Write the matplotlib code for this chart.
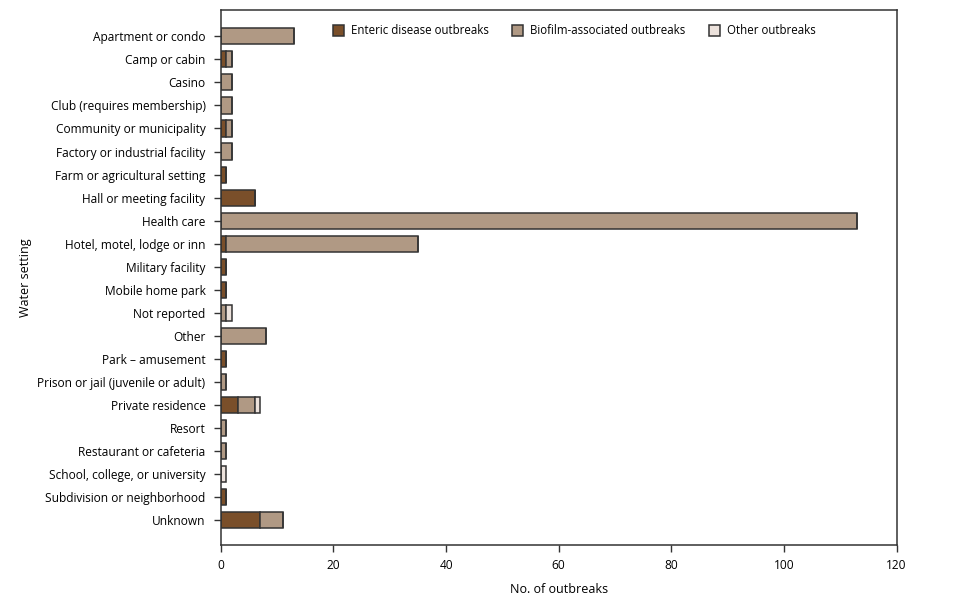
import matplotlib.pyplot as plt
import numpy as np
from matplotlib.patches import Patch

plt.rcParams["font.family"] = ["Open Sans", "DejaVu Sans"]

settings = [
    "Apartment or condo", "Camp or cabin", "Casino", "Club (requires membership)",
    "Community or municipality", "Factory or industrial facility", "Farm or agricultural setting",
    "Hall or meeting facility", "Health care", "Hotel, motel, lodge or inn", "Military facility",
    "Mobile home park", "Not reported", "Other", "Park \u2013 amusement",
    "Prison or jail (juvenile or adult)", "Private residence", "Resort",
    "Restaurant or cafeteria", "School, college, or university",
    "Subdivision or neighborhood", "Unknown",
]
enteric = [0, 1, 0, 0, 1, 0, 1, 6, 0, 1, 1, 1, 0, 0, 1, 0, 3, 0, 0, 0, 1, 7]
biofilm = [13, 1, 2, 2, 1, 2, 0, 0, 113, 34, 0, 0, 1, 8, 0, 1, 3, 1, 1, 0, 0, 4]
other = [0, 0, 0, 0, 0, 0, 0, 0, 0, 0, 0, 0, 1, 0, 0, 0, 1, 0, 0, 1, 0, 0]

C_ENT = "#7a4f2a"
C_BIO = "#b09984"
C_OTH = "#ece2dc"
EDGE = "#333333"

fig = plt.figure(figsize=(9.6, 6.05), dpi=100)
ax = fig.add_axes([0.230, 0.099, 0.704, 0.884])

y = np.arange(len(settings))
ent = np.array(enteric)
bio = np.array(biofilm)
oth = np.array(other)
kw = dict(height=0.7, edgecolor=EDGE, linewidth=1.1)
ax.barh(y, ent, color=C_ENT, **kw)
ax.barh(y, bio, left=ent, color=C_BIO, **kw)
ax.barh(y, oth, left=ent + bio, color=C_OTH, **kw)

ax.set_yticks(y)
ax.set_yticklabels(settings, fontsize=8.6)
ax.set_ylim(len(settings) - 1 + 1.08, -1.13)
ax.set_xlim(0, 120)
ax.set_xticks(range(0, 121, 20))
ax.tick_params(axis="x", labelsize=8.6, length=5, width=1, color="#333", pad=5)
ax.tick_params(axis="y", length=5, width=1, color="#333", pad=6)
for s in ax.spines.values():
    s.set_color("#333")
    s.set_linewidth(1.1)

ax.set_xlabel("No. of outbreaks", fontsize=9, labelpad=8)
ax.set_ylabel("Water setting", fontsize=9, labelpad=4)

handles = [
    Patch(facecolor=C_ENT, edgecolor=EDGE, linewidth=1.1, label="Enteric disease outbreaks"),
    Patch(facecolor=C_BIO, edgecolor=EDGE, linewidth=1.1, label="Biofilm-associated outbreaks"),
    Patch(facecolor=C_OTH, edgecolor=EDGE, linewidth=1.1, label="Other outbreaks"),
]
ax.legend(handles=handles, loc="upper left", bbox_to_anchor=(0.150, 0.993), ncol=3,
          frameon=False, fontsize=8.3, handlelength=1.0, handleheight=1.0,
          columnspacing=2.0, handletextpad=0.6)

fig.savefig("out.png", dpi=100)
